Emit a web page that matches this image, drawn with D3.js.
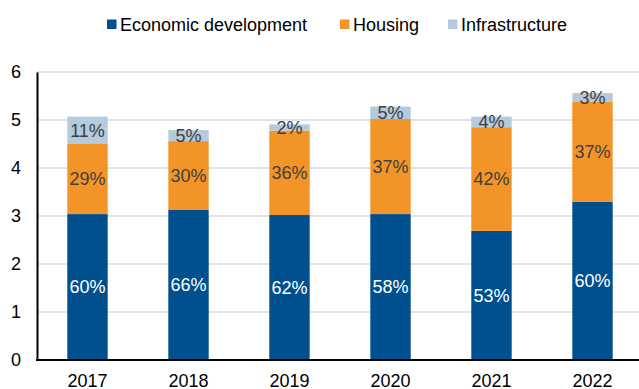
<!DOCTYPE html>
<html>
<head>
<meta charset="utf-8">
<script src="https://cdn.jsdelivr.net/npm/d3@7"></script>
<style>
  body { margin: 0; background: white; }
  text { font-family: "Liberation Sans", Arial, sans-serif; }
</style>
</head>
<body>
<div id="chart"></div>
<script>
// data
var years = ['2017', '2018', '2019', '2020', '2021', '2022'];
var economic = [3.04, 3.125, 3.02, 3.04, 2.69, 3.30];
var housing = [1.46, 1.435, 1.76, 1.98, 2.16, 2.075];
var infrastructure = [0.57, 0.23, 0.13, 0.26, 0.22, 0.185];
var economicPct = ['60%', '66%', '62%', '58%', '53%', '60%'];
var housingPct = ['29%', '30%', '36%', '37%', '42%', '37%'];
var infraPct = ['11%', '5%', '2%', '5%', '4%', '3%'];
var yTicks = [0, 1, 2, 3, 4, 5, 6];

var seriesNames = ['Economic development', 'Housing', 'Infrastructure'];
var colors = ['#00508f', '#f29428', '#b4cade'];
var labelColors = ['#ffffff', '#404040', '#404040'];

var w = 639;
var h = 389;
var margin = {left: 37, right: -4, top: 72, bottom: 29};
var fontSize = '18px';

var svg = d3.select('#chart')
  .append('svg')
  .attr('width', w)
  .attr('height', h);

var x = d3.scaleBand()
  .domain(years)
  .range([margin.left, w - margin.right])
  .paddingInner(0.6)
  .paddingOuter(0.3);

var y = d3.scaleLinear()
  .domain([0, 6])
  .range([h - margin.bottom, margin.top]);

// gridlines
svg.append('g')
  .selectAll('line')
  .data(yTicks.slice(1))
  .join('line')
  .attr('x1', margin.left)
  .attr('x2', w)
  .attr('y1', d => y(d))
  .attr('y2', d => y(d))
  .attr('stroke', '#d9d9d9')
  .attr('stroke-width', 1.5);

// stack the series
var rows = years.map(function(yr, i) {
  return {year: yr, e: economic[i], hs: housing[i], inf: infrastructure[i], i: i};
});
var stack = d3.stack().keys(['e', 'hs', 'inf'])(rows);
var pctLabels = [economicPct, housingPct, infraPct];

var layers = svg.append('g')
  .selectAll('g')
  .data(stack)
  .join('g')
  .attr('fill', (d, k) => colors[k]);

layers.selectAll('rect')
  .data(d => d)
  .join('rect')
  .attr('x', d => x(d.data.year))
  .attr('width', x.bandwidth())
  .attr('y', d => y(d[1]))
  .attr('height', d => y(d[0]) - y(d[1]));

layers.each(function(layer, k) {
  d3.select(this).selectAll('text')
    .data(layer)
    .join('text')
    .attr('x', d => x(d.data.year) + x.bandwidth() / 2)
    .attr('y', d => (y(d[0]) + y(d[1])) / 2)
    .attr('dy', '0.35em')
    .attr('text-anchor', 'middle')
    .attr('font-size', fontSize)
    .attr('fill', labelColors[k])
    .text(d => pctLabels[k][d.data.i]);
});

// axes
var yAxis = svg.append('g')
  .attr('transform', 'translate(' + margin.left + ',0)')
  .call(d3.axisLeft(y).tickValues(yTicks).tickFormat(d3.format('d')).tickSize(0).tickPadding(16));
yAxis.select('.domain').attr('stroke', '#000').attr('stroke-width', 2);
yAxis.selectAll('text').attr('font-size', fontSize).attr('fill', '#000')
  .style('font-family', '"Liberation Sans", Arial, sans-serif');

var xAxis = svg.append('g')
  .attr('transform', 'translate(0,' + y(0) + ')')
  .call(d3.axisBottom(x).tickSize(0).tickPadding(14));
xAxis.select('.domain').remove();
xAxis.selectAll('text').attr('font-size', fontSize).attr('fill', '#000')
  .style('font-family', '"Liberation Sans", Arial, sans-serif');
svg.append('line')
  .attr('x1', margin.left - 1)
  .attr('x2', w)
  .attr('y1', y(0))
  .attr('y2', y(0))
  .attr('stroke', '#000')
  .attr('stroke-width', 2);

// legend
var legendX = [107, 340, 448];
var legend = svg.append('g')
  .selectAll('g')
  .data(seriesNames)
  .join('g')
  .attr('transform', (d, k) => 'translate(' + legendX[k] + ',19.5)');
legend.append('rect')
  .attr('width', 9.5)
  .attr('height', 9.5)
  .attr('fill', (d, k) => colors[k]);
legend.append('text')
  .attr('x', 13)
  .attr('y', 4.8)
  .attr('dy', '0.35em')
  .attr('font-size', fontSize)
  .attr('fill', '#000')
  .text(d => d);
</script>
</body>
</html>
